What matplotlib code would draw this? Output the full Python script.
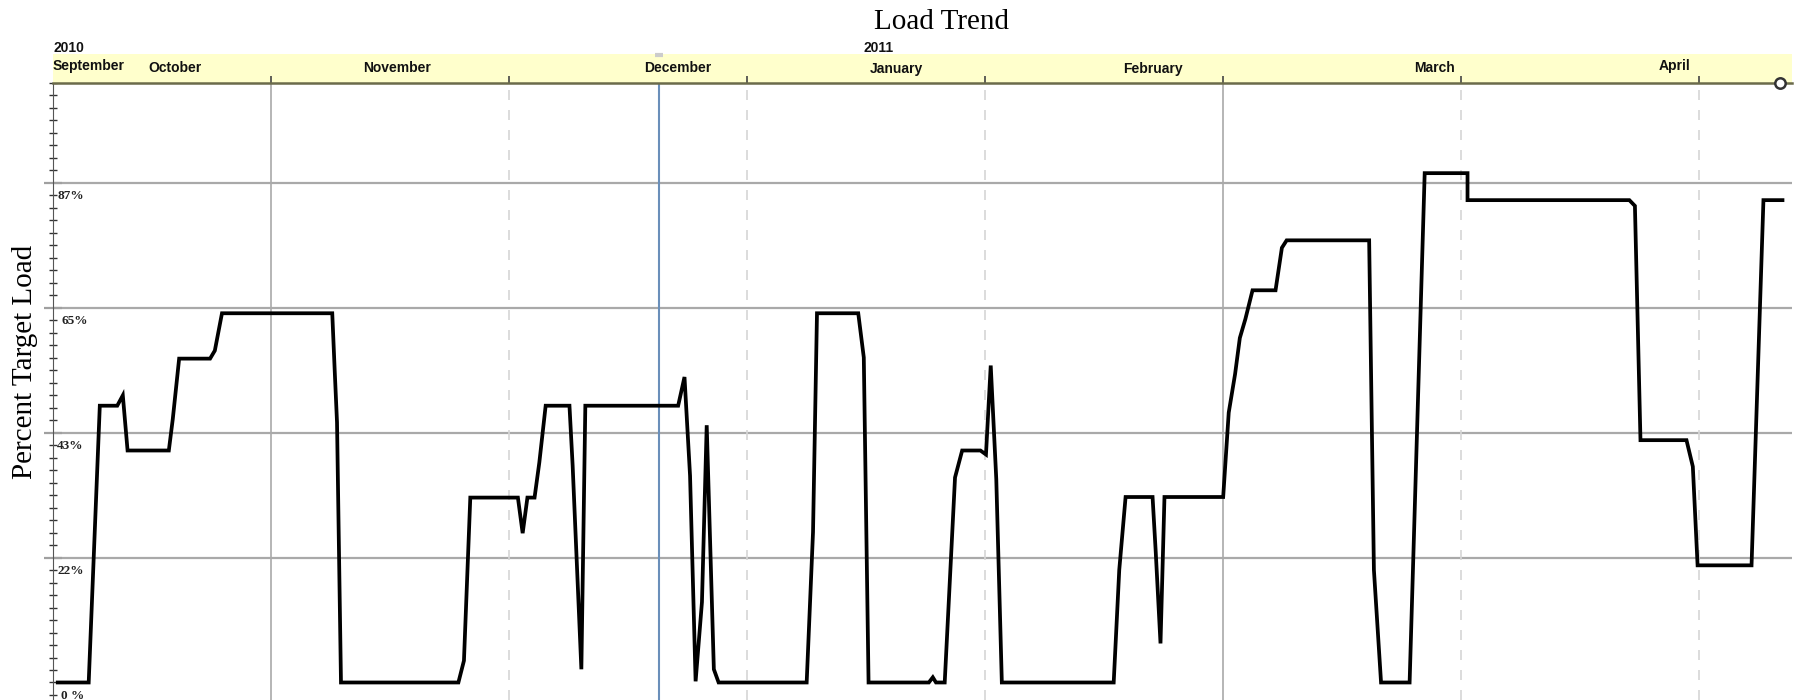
import matplotlib.pyplot as plt
from matplotlib.ticker import MultipleLocator

# load trend, x in days from the start of the chart, y in percent of target load
days = [0.6, 4.5, 5.9, 8.1, 8.8, 9.4, 14.6, 15.1, 15.9, 19.8, 20.4, 21.3, 35.2, 35.5, 35.8, 36.3,
        51.1, 51.8, 52.6, 58.6, 59.2, 59.8, 60.7, 61.3, 62.1, 65.1, 65.5, 66.6, 67.1,
        78.8, 79.6, 80.3, 81.0, 81.8, 82.4, 83.3, 83.9, 95.0, 95.8, 96.3, 101.5, 102.2, 102.8,
        110.4, 110.9, 111.3, 112.4, 113.7, 114.6, 116.9, 117.6, 118.2, 118.9, 119.6,
        133.7, 134.4, 135.2, 138.6, 139.0, 139.6, 140.1, 147.5, 148.2, 149.0, 149.6, 150.3,
        151.2, 154.1, 154.9, 155.5, 165.9, 166.5, 167.4, 171.0, 172.9, 178.3, 178.3,
        198.7, 199.4, 200.1, 205.9, 206.7, 207.3, 214.1, 215.6, 218.0]
load = [0, 0, 48.2, 48.2, 50.0, 40.4, 40.4, 45.9, 56.4, 56.4, 57.8, 64.3, 64.3, 54.6, 45.3, 0,
        0, 3.8, 32.2, 32.2, 26.0, 32.2, 32.2, 38.3, 48.2, 48.2, 37.8, 2.3, 48.2,
        48.2, 53.2, 36.0, 0.2, 14.0, 44.8, 2.3, 0, 0, 26.2, 64.3, 64.3, 56.6, 0,
        0, 0.9, 0, 0, 35.7, 40.4, 40.4, 39.7, 55.2, 35.4, 0,
        0, 19.6, 32.3, 32.3, 22.7, 6.8, 32.3, 32.3, 47.0, 53.7, 60.0, 63.3,
        68.3, 68.3, 75.7, 77.0, 77.0, 19.6, 0, 0, 88.7, 88.7, 84.0,
        84.0, 83.0, 42.2, 42.2, 37.6, 20.4, 20.4, 84.0, 84.0]

grid_days = [27.5, 57.5, 87.5, 117.5, 147.5, 177.5, 207.5]
solid_days = [27.5, 147.5]
pct_levels = [0, 21.75, 43.5, 65.25, 87.0]
pct_labels = ['0 %', '22%', '43%', '65%', '87%']
months = ['September', 'October', 'November', 'December', 'January', 'February', 'March', 'April']
month_pos = [0, 15.4, 43.4, 78.7, 106.3, 138.6, 174.1, 204.4]
years = ['2010', '2011']
year_pos = [0, 104.0]
now_day = 76.4
end_day = 217.7

W, H = 1794, 700
fig = plt.figure(figsize=(W / 100, H / 100), dpi=100)
left, right, top, band_top = 53, 1792, 83, 54
ax = fig.add_axes([left / W, 0, (right - left) / W, (H - top) / H])
band = fig.add_axes([left / W, (H - top) / H, (right - left) / W, (top - band_top) / H])

xmax = 219.2
ax.set_xlim(0, xmax)
ax.set_ylim(-3.05, 104.4)

# grid
for lv in pct_levels[1:]:
    ax.axhline(lv, color='#a9a9a9', lw=1.6, zorder=1)
for d in grid_days:
    if d in solid_days:
        ax.axvline(d, color='#a9a9a9', lw=1.2, zorder=1)
    else:
        ax.axvline(d, color='#d6d6d6', lw=1.2, dashes=(6, 6), zorder=1)
ax.axvline(now_day, color='#6a8fba', lw=1.5, zorder=2)

ax.plot(days, load, color='black', lw=2.7, solid_joinstyle='miter', zorder=3)

for s in ['top', 'right', 'bottom']:
    ax.spines[s].set_visible(False)
ax.spines['left'].set_color('#555555')
ax.set_xticks([])
ax.set_yticks(pct_levels[1:])
ax.yaxis.set_minor_locator(MultipleLocator(2.175))
ax.tick_params(axis='y', which='major', direction='inout', length=13, width=1.6,
               color='#a0a0a0', labelleft=False)
ax.tick_params(axis='y', which='minor', direction='inout', length=5.5, width=1,
               color='#333333')

for lv, lab in zip(pct_levels, pct_labels):
    dx = 6 if lab in ('0 %', '65%') else 3
    ax.annotate(lab, xy=(0, lv), xytext=(dx, -9.5), textcoords='offset points',
                ha='left', va='center', fontsize=9.5, fontweight='bold',
                family='Liberation Serif', color='#222222')

fig.text(25 / W, 1 - 362 / H, 'Percent Target Load', rotation=90, ha='center', va='center',
         family='Liberation Serif', fontsize=21)

# month band
band.set_facecolor('#ffffcc')
band.set_xlim(0, xmax)
band.set_ylim(0, 1)
for s in ['top', 'right', 'left']:
    band.spines[s].set_visible(False)
band.spines['bottom'].set_color('#6b6b4a')
band.spines['bottom'].set_linewidth(1.8)
band.set_yticks([])
band.set_xticks(grid_days)
band.tick_params(axis='x', direction='in', length=5, width=1.2, color='#444444',
                 labelbottom=False)
for m, p in zip(months, month_pos):
    yy = 0.57 if m in ('September', 'April') else 0.5
    band.text(p, yy, m, ha='left' if p == 0 else 'center', va='center',
              fontsize=10, fontweight='bold', family='Liberation Sans', color='#111111')
for y_, p in zip(years, year_pos):
    band.text(p, 1.2, y_, ha='left' if p == 0 else 'center', va='center',
              fontsize=10, fontweight='bold', family='Liberation Sans', color='#111111',
              clip_on=False)
band.plot([end_day], [0], marker='o', ms=7.5, mfc='white', mec='#333333', mew=1.8,
          clip_on=False, zorder=5)
band.plot([now_day], [0.97], marker='_', ms=6, mew=3, color='#cccccc', clip_on=False)

fig.text(941 / W, 1 - 22 / H, 'Load Trend', ha='center', va='center',
         family='Liberation Serif', fontsize=21)

fig.savefig('out.png', dpi=100)
